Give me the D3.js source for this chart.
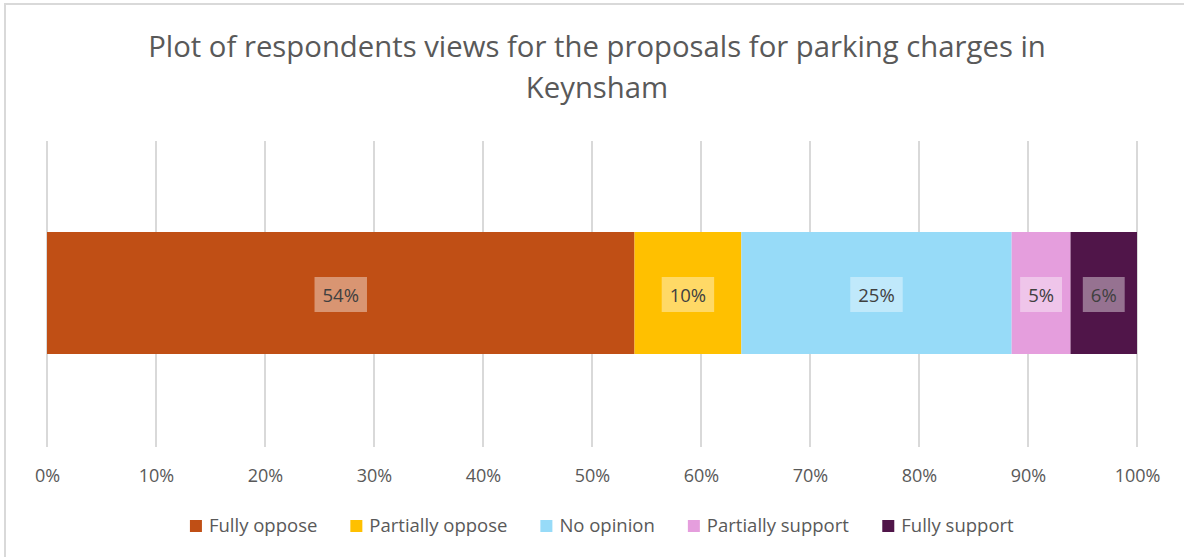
<!DOCTYPE html>
<html><head><meta charset="utf-8">
<script src="https://cdn.jsdelivr.net/npm/d3@7"></script>
<style>body{margin:0;background:#fff;} text{font-family:"Open Sans",Lato,sans-serif;}</style>
</head><body>
<svg id="c" width="1184" height="557"></svg>
<script>
const categories = ["Fully oppose","Partially oppose","No opinion","Partially support","Fully support"];
const values = [53.9, 9.8, 24.8, 5.4, 6.1];
const labels = ["54%","10%","25%","5%","6%"];
const colors = ["#C04F15","#FFC000","#97DBF8","#E59EDD","#501549"];
const ticks = [0,10,20,30,40,50,60,70,80,90,100];
const titleLines = ["Plot of respondents views for the proposals for parking charges in","Keynsham"];

const svg = d3.select("#c");
svg.append("rect").attr("x",5).attr("y",4).attr("width",1184).attr("height",560).attr("fill","#fff").attr("stroke","#d9d9d9").attr("stroke-width",2);

const x = d3.scaleLinear().domain([0,100]).range([47,1137]);
const yTop = 141, yBot = 447;

svg.append("g").selectAll("line").data(ticks).join("line")
  .attr("x1",d=>x(d)).attr("x2",d=>x(d)).attr("y1",yTop).attr("y2",yBot)
  .attr("stroke","#d9d9d9").attr("stroke-width",2);

const axis = d3.axisBottom(x).tickValues(ticks).tickFormat(d=>d+"%").tickSize(0).tickPadding(0);
const ga = svg.append("g").attr("transform",`translate(0,${yBot+22})`).call(axis);
ga.select(".domain").remove();
ga.selectAll("text").attr("fill","#595959").style("font-size","18px").style("font-family","'Open Sans',sans-serif");

let cum = 0;
const segs = values.map((v,i)=>{const s={cat:categories[i],v,start:cum,end:cum+v,label:labels[i],color:colors[i]}; cum+=v; return s;});
const bandY = 232, bandH = 122;
svg.append("g").selectAll("rect").data(segs).join("rect")
  .attr("x",d=>x(d.start)).attr("width",d=>x(d.end)-x(d.start))
  .attr("y",bandY).attr("height",bandH).attr("fill",d=>d.color);

const lg = svg.append("g").selectAll("g").data(segs).join("g")
  .attr("transform",d=>`translate(${(x(d.start)+x(d.end))/2},${bandY+bandH/2+2})`);
const lt = lg.append("text").text(d=>d.label).attr("text-anchor","middle").attr("dy","0.36em")
  .attr("fill","#404040").style("font-size","18.5px");
lt.each(function(){
  const w=this.getComputedTextLength();
  d3.select(this.parentNode).insert("rect","text").attr("x",-w/2-8).attr("y",-18).attr("width",w+16).attr("height",35)
    .attr("fill","#fff").attr("fill-opacity",0.4);
});

const tg = svg.append("text").attr("text-anchor","middle").attr("fill","#595959").style("font-size","29.3px");
titleLines.forEach((t,i)=>tg.append("tspan").attr("x",597).attr("y",57+i*41).text(t));

// legend
const leg = svg.append("g");
const items = leg.selectAll("g").data(segs).join("g");
items.append("rect").attr("width",12).attr("height",12).attr("y",-12).attr("fill",d=>d.color);
items.append("text").attr("x",19).text(d=>d.cat).attr("fill","#595959").style("font-size","18.5px");
const gap=33;
const widths=[]; items.each(function(){widths.push(this.getBBox().width);});
const total = d3.sum(widths)+gap*(widths.length-1);
let cx = 602 - total/2;
items.attr("transform",(d,i)=>{const t=`translate(${cx},532)`; cx+=widths[i]+gap; return t;});
</script>
</body></html>
